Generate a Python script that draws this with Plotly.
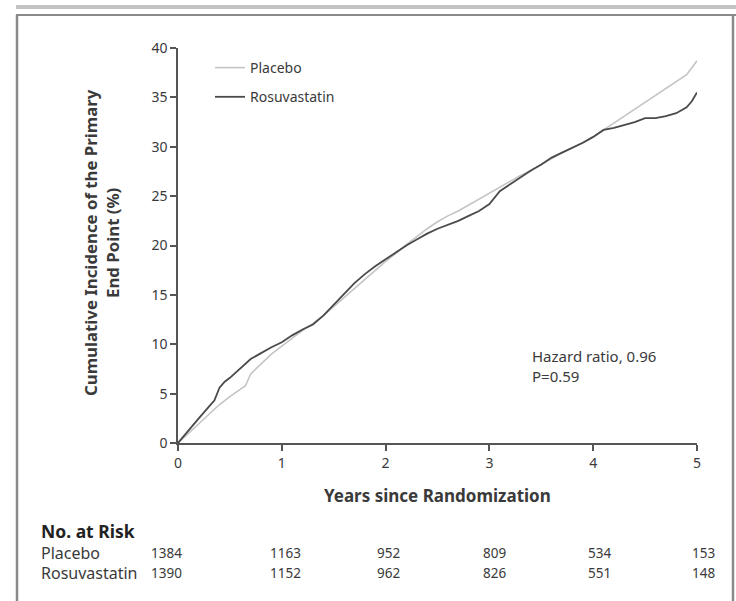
import plotly.graph_objects as go

# ---- data ----
rosu_t = [0, 0.1, 0.2, 0.3, 0.35, 0.4, 0.45, 0.5, 0.6, 0.7, 0.8, 0.9, 1.0, 1.1, 1.2, 1.3, 1.4, 1.5,
          1.6, 1.7, 1.8, 1.9, 2.0, 2.1, 2.2, 2.3, 2.4, 2.5, 2.6, 2.7, 2.8, 2.9, 3.0, 3.1, 3.2, 3.3,
          3.4, 3.5, 3.6, 3.7, 3.8, 3.9, 4.0, 4.1, 4.2, 4.3, 4.4, 4.5, 4.6, 4.7, 4.8, 4.9, 4.95, 5.0]
rosu_v = [0, 1.3, 2.5, 3.7, 4.3, 5.6, 6.2, 6.6, 7.6, 8.5, 9.1, 9.7, 10.2, 10.9, 11.5, 12.0, 12.9, 14.0,
          15.0, 16.2, 17.1, 17.9, 18.6, 19.3, 20.0, 20.6, 21.2, 21.7, 22.1, 22.5, 23.0, 23.5, 24.2, 25.5,
          26.2, 26.9, 27.6, 28.2, 28.9, 29.4, 29.9, 30.4, 31.0, 31.7, 31.9, 32.2, 32.5, 32.9, 32.9, 33.1,
          33.4, 34.0, 34.6, 35.5]

plac_t = [0, 0.1, 0.2, 0.3, 0.4, 0.5, 0.6, 0.65, 0.7, 0.8, 0.9, 1.0, 1.1, 1.2, 1.3, 1.4, 1.5, 1.6,
          1.7, 1.8, 1.9, 2.0, 2.1, 2.2, 2.3, 2.4, 2.5, 2.6, 2.7, 2.8, 2.9, 3.0, 3.1, 3.2, 3.3, 3.4,
          3.5, 3.6, 3.7, 3.8, 3.9, 4.0, 4.1, 4.2, 4.3, 4.4, 4.5, 4.6, 4.7, 4.8, 4.9, 5.0]
plac_v = [0, 1.0, 2.0, 3.0, 3.9, 4.7, 5.4, 5.8, 7.0, 8.0, 9.0, 9.8, 10.6, 11.4, 12.1, 12.9, 13.8, 14.7,
          15.6, 16.5, 17.5, 18.4, 19.2, 20.1, 20.9, 21.7, 22.4, 23.0, 23.5, 24.1, 24.7, 25.3, 25.9, 26.5,
          27.1, 27.6, 28.2, 28.8, 29.4, 29.9, 30.4, 31.0, 31.7, 32.4, 33.1, 33.8, 34.5, 35.2, 35.9, 36.6,
          37.3, 38.7]

risk_years = [0, 1, 2, 3, 4, 5]
risk_placebo = [1384, 1163, 952, 809, 534, 153]
risk_rosu = [1390, 1152, 962, 826, 551, 148]

x_ticks = [0, 1, 2, 3, 4, 5]
y_ticks = [0, 5, 10, 15, 20, 25, 30, 35, 40]

FONT = "Noto Sans, Open Sans, DejaVu Sans, sans-serif"
TXT = "#3a3a3a"

# plot area in page pixels (body margin removed below)
L, R, T, B = 178, 697, 48, 443
W, H = 736, 601


def px(x):
    return (x - L) / (R - L)


def py(y):
    return (B - y) / (B - T)


fig = go.Figure()
fig.add_trace(go.Scatter(x=plac_t, y=plac_v, mode="lines", name="Placebo",
                         line=dict(color="#c4c4c4", width=1.6), legendgroup="a"))
fig.add_trace(go.Scatter(x=rosu_t, y=rosu_v, mode="lines", name="Rosuvastatin",
                         line=dict(color="#4a4a4a", width=1.8), legendgroup="b"))


def ann(x, y, text, size, color=TXT, xanchor="center", **kw):
    return dict(xref="paper", yref="paper", x=x, y=y, text=text, showarrow=False,
                xanchor=xanchor, yanchor="middle",
                font=dict(size=size, color=color, family=FONT), **kw)


annotations = [
    ann(px(101), py(243), "<b>Cumulative Incidence of the Primary<br>End Point (%)</b>", 16.8,
        textangle=-90),
    ann(0.5, py(495), "<b>Years since Randomization</b>", 17),
    ann(px(530), py(366), "Hazard ratio, 0.96<br>P=0.59", 15, xanchor="left", align="left"),
    ann(px(39), py(531), "<b>No. at Risk</b>", 17.5, color="#222", xanchor="left"),
    ann(px(39), py(553), "Placebo", 16, xanchor="left"),
    ann(px(39), py(573), "Rosuvastatin", 16, xanchor="left"),
]
risk_shift = [-12, 4, 3, 5, 6, 6]
for t, a, b, s in zip(risk_years, risk_placebo, risk_rosu, risk_shift):
    for val, yy in ((a, 553), (b, 573)):
        annotations.append(dict(xref="x", yref="paper", x=t, y=py(yy), text=str(val),
                                showarrow=False, xshift=s, yanchor="middle",
                                font=dict(size=13.5, color=TXT, family=FONT)))

shapes = [
    dict(type="line", xref="paper", yref="paper", x0=px(16), x1=px(736), y0=py(7), y1=py(7),
         line=dict(color="#c4c4c4", width=4)),
    dict(type="line", xref="paper", yref="paper", x0=px(16), x1=px(736), y0=py(15), y1=py(15),
         line=dict(color="#8a8a8a", width=2)),
    dict(type="line", xref="paper", yref="paper", x0=px(17), x1=px(17), y0=py(15), y1=py(610),
         line=dict(color="#8a8a8a", width=2.5)),
    dict(type="line", xref="paper", yref="paper", x0=px(733), x1=px(733), y0=py(15), y1=py(610),
         line=dict(color="#8a8a8a", width=2.5)),
]

fig.update_layout(
    width=W, height=H,
    margin=dict(l=L, r=W - R, t=T, b=H - B, autoexpand=False),
    paper_bgcolor="white", plot_bgcolor="white",
    font=dict(family=FONT, color=TXT, size=13),
    showlegend=True,
    legend=dict(x=px(210), y=py(52), xanchor="left", yanchor="top", bgcolor="rgba(0,0,0,0)",
                font=dict(size=14, color=TXT, family=FONT), tracegroupgap=8, itemwidth=30),
    xaxis=dict(range=[0, 5], tickvals=x_ticks, ticks="outside", ticklen=6, tickwidth=1.5,
               tickcolor="#555", showline=True, linecolor="#555", linewidth=1.5,
               showgrid=False, zeroline=False, tickfont=dict(size=14, color=TXT), fixedrange=True),
    yaxis=dict(range=[0, 40], tickvals=y_ticks, ticks="outside", ticklen=6, tickwidth=1.5,
               tickcolor="#555", showline=True, linecolor="#555", linewidth=1.5,
               showgrid=False, zeroline=False, tickfont=dict(size=14, color=TXT), fixedrange=True),
    annotations=annotations,
    shapes=shapes,
)

fig.write_html("out.html", config={"displayModeBar": False},
               post_script="document.body.style.margin='0px';document.body.style.overflow='hidden';")
